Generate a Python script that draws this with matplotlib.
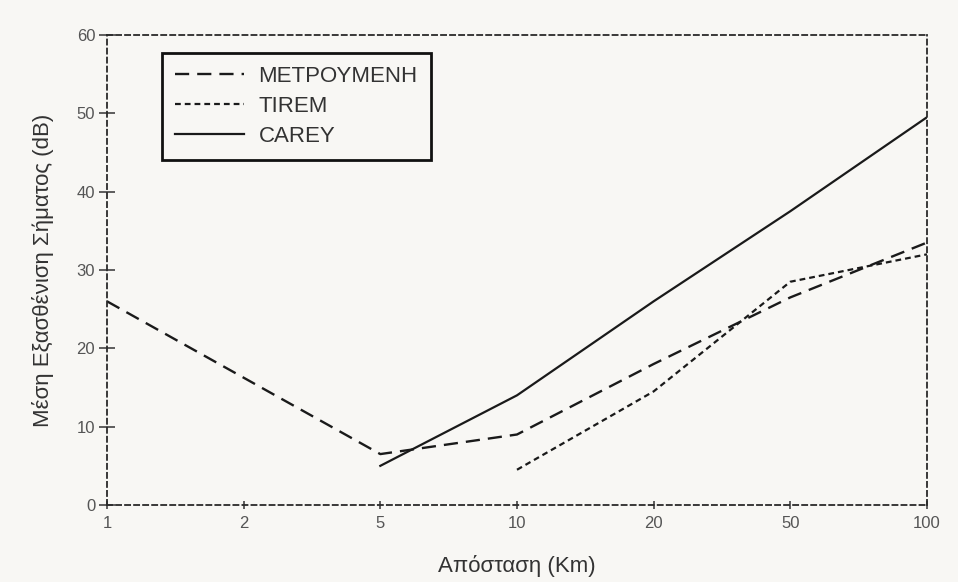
import numpy as np
import matplotlib
matplotlib.use("Agg")
import matplotlib.pyplot as plt

# distance axis: 1-2-5 decades drawn with equal spacing
dist_ticks = [1, 2, 5, 10, 20, 50, 100]
y_ticks = [0, 10, 20, 30, 40, 50, 60]

measured_x = [1, 5, 10, 20, 50, 100]
measured_y = [26, 6.5, 9, 18, 26.5, 33.5]

tirem_x = [10, 20, 50, 100]
tirem_y = [4.5, 14.5, 28.5, 32]

carey_x = [5, 10, 20, 50, 100]
carey_y = [5, 14, 26, 37.5, 49.5]

_log_ticks = np.log10(dist_ticks)
_idx = np.arange(len(dist_ticks), dtype=float)


def _fwd(x):
    x = np.clip(np.asarray(x, dtype=float), 1e-6, None)
    return np.interp(np.log10(x), _log_ticks, _idx)


def _inv(p):
    return 10 ** np.interp(np.asarray(p, dtype=float), _idx, _log_ticks)


plt.rcParams["font.family"] = ["Liberation Sans", "DejaVu Sans"]

bg = "#f8f7f4"
fig = plt.figure(figsize=(9.58, 5.82), dpi=100, facecolor=bg)
ax = fig.add_axes([0.1117, 0.1323, 0.8559, 0.8076])
ax.set_facecolor(bg)
ax.set_xscale("function", functions=(_fwd, _inv))

ax.plot(measured_x, measured_y, color="#1a1a1a", lw=1.7,
        linestyle=(0, (6.0, 3.4)), label="ΜΕΤΡΟΥΜΕΝΗ")
ax.plot(tirem_x, tirem_y, color="#1a1a1a", lw=1.6,
        linestyle=(0, (2.6, 1.8)), label="TIREM")
ax.plot(carey_x, carey_y, color="#1a1a1a", lw=1.6, label="CAREY")

ax.set_xlim(1, 100)
ax.set_ylim(0, 60)
ax.set_xticks(dist_ticks)
ax.set_xticklabels([str(t) for t in dist_ticks])
ax.set_yticks(y_ticks)
ax.set_yticklabels([str(t) for t in y_ticks])
ax.minorticks_off()

for side in ["left", "right", "top", "bottom"]:
    sp = ax.spines[side]
    sp.set_linestyle((0, (2.8, 2.2)))
    sp.set_linewidth(1.3)
    sp.set_color("#2a2a2a")

ax.tick_params(axis="y", direction="inout", length=11, width=1.1,
               color="#333333", labelsize=12, labelcolor="#555555", pad=3)
ax.tick_params(axis="x", direction="inout", length=6, width=1.1,
               color="#333333", labelsize=12, labelcolor="#555555", pad=5)

ax.set_xlabel("Απόσταση (Km)", fontsize=16, color="#333333", labelpad=17)
ax.set_ylabel("Μέση Εξασθένιση Σήματος (dB)", fontsize=16, color="#333333",
              labelpad=16)

leg = ax.legend(loc="upper left", bbox_to_anchor=(0.067, 0.962),
                borderaxespad=0, fancybox=False, framealpha=1,
                edgecolor="#111111", facecolor=bg, fontsize=16,
                handlelength=3.1, handletextpad=0.65, labelspacing=0.4,
                borderpad=0.6)
leg.get_frame().set_linewidth(2.0)
for t in leg.get_texts():
    t.set_color("#333333")

fig.savefig("out.png", dpi=100, facecolor=bg)
